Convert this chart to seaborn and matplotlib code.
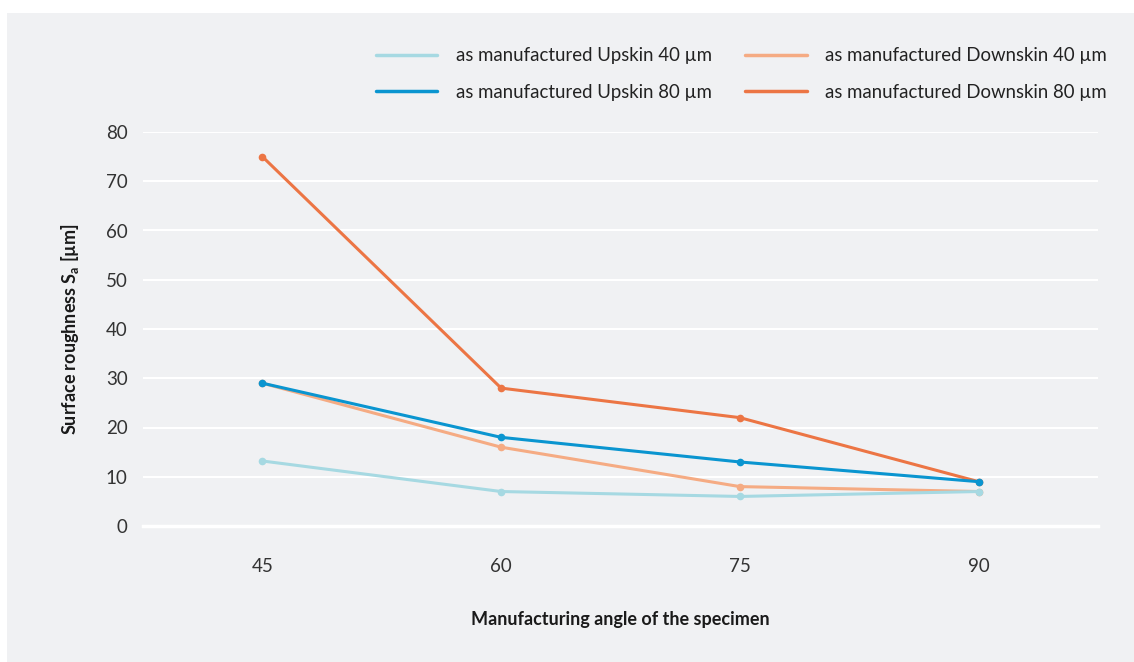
import pandas as pd
import matplotlib.pyplot as plt
import seaborn as sns
from matplotlib.patches import Rectangle

angles = [45, 60, 75, 90]
upskin_40 = [13.2, 7.0, 6.0, 7.0]
upskin_80 = [29.0, 18.0, 13.0, 9.0]
downskin_40 = [29.0, 16.0, 8.0, 7.0]
downskin_80 = [75.0, 28.0, 22.0, 9.0]

series = {
    'as manufactured Upskin 40 µm': upskin_40,
    'as manufactured Upskin 80 µm': upskin_80,
    'as manufactured Downskin 40 µm': downskin_40,
    'as manufactured Downskin 80 µm': downskin_80,
}
colors = {
    'as manufactured Upskin 40 µm': '#a6d9e2',
    'as manufactured Upskin 80 µm': '#0a95d0',
    'as manufactured Downskin 40 µm': '#f5ab83',
    'as manufactured Downskin 80 µm': '#ec7544',
}

rows = []
for name, vals in series.items():
    for a, v in zip(angles, vals):
        rows.append({'angle': a, 'value': v, 'series': name})
df = pd.DataFrame(rows)

sns.set_style('white')
plt.rcParams['font.family'] = ['Lato', 'DejaVu Sans']

bg = '#f0f1f3'
fig = plt.figure(figsize=(11.34, 6.62), dpi=100)
fig.patch.set_facecolor('white')
fig.patches.append(Rectangle((7 / 1134, 0), 1, 1 - 13 / 662, transform=fig.transFigure,
                             facecolor=bg, edgecolor='none', zorder=-10))

ax = fig.add_axes([143 / 1134, 1 - 526 / 662, (1098 - 143) / 1134, (526 - 132) / 662])
ax.set_facecolor(bg)

# draw order so the darker blue ends on top
draw_order = ['as manufactured Downskin 80 µm', 'as manufactured Downskin 40 µm',
              'as manufactured Upskin 40 µm', 'as manufactured Upskin 80 µm']
for name in draw_order:
    sns.lineplot(data=df[df['series'] == name], x='angle', y='value', color=colors[name],
                 marker='o', markersize=5.5, markeredgewidth=0, linewidth=2.2,
                 ax=ax, label=name, legend=False)

ax.set_xlim(37.5, 97.5)
ax.set_ylim(0, 80)
ax.set_xticks(angles)
ax.set_yticks(range(0, 81, 10))
ax.grid(axis='y', color='white', linewidth=1.5)
ax.set_axisbelow(True)
for s in ['top', 'right', 'left']:
    ax.spines[s].set_visible(False)
ax.spines['bottom'].set_color('white')
ax.spines['bottom'].set_linewidth(2.5)
ax.tick_params(axis='x', colors='white', length=9, width=2, pad=14, labelcolor='#333333',
               labelsize=13.5)
ax.tick_params(axis='y', length=0, pad=11, labelcolor='#333333', labelsize=13.5)

ax.set_xlabel('Manufacturing angle of the specimen', fontsize=13, fontweight='bold',
              color='#1a1a1a', labelpad=26)
ax.set_ylabel('Surface roughness S$_\\mathregular{a}$ [µm]', fontsize=13, fontweight='bold',
              color='#1a1a1a', labelpad=18)

handles, labels = ax.get_legend_handles_labels()
order = [labels.index(n) for n in series.keys()]
leg = ax.legend([handles[i] for i in order], [labels[i] for i in order], ncol=2,
                loc='lower right', bbox_to_anchor=(1.027, 1.037), frameon=False,
                fontsize=13.4, handlelength=3.3, columnspacing=1.8, labelspacing=1.05,
                handletextpad=1.0)
for h in leg.get_lines():
    h.set_marker('')
    h.set_linewidth(2.5)
for t in leg.get_texts():
    t.set_color('#222222')

fig.savefig('out.png', dpi=100, facecolor=fig.get_facecolor())
